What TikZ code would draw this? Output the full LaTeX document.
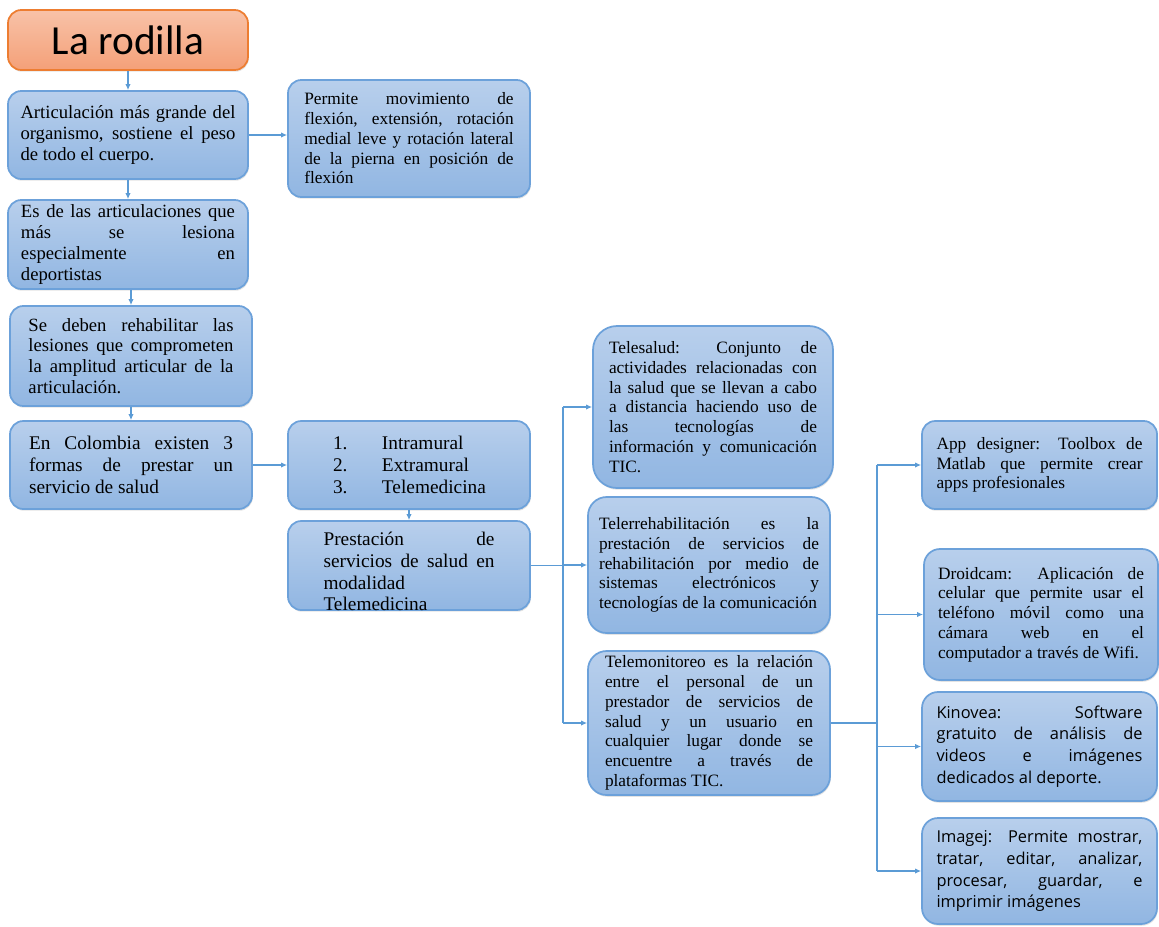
\documentclass[tikz,border=0pt]{standalone}
\usepackage{fontspec}
\setmainfont{Liberation Serif}
\newfontfamily\titlefont{Carlito}
\newfontfamily\opensans{Open Sans}
\usepackage{xcolor}
\usetikzlibrary{arrows.meta,positioning,calc,shadows}
\definecolor{boxTop}{HTML}{B8CFEC}
\definecolor{boxBot}{HTML}{91B6E2}
\definecolor{boxLine}{HTML}{6CA1DA}
\definecolor{linkBlue}{HTML}{5B9BD5}
\definecolor{titleTop}{HTML}{F8C2A8}
\definecolor{titleBot}{HTML}{F4A078}
\definecolor{titleLine}{HTML}{ED7D31}
\newcommand{\nohyph}{\hyphenpenalty=10000\exhyphenpenalty=10000\tolerance=10000\relax}

\tikzset{
  infobox/.style={draw=boxLine, line width=1.3pt, rounded corners=10pt,
    top color=boxTop, bottom color=boxBot, inner sep=0pt, align=justify,
    text=black, drop shadow={opacity=0.22, shadow xshift=0.6pt, shadow yshift=-1.3pt}},
  headbox/.style={infobox, draw=titleLine, top color=titleTop, bottom color=titleBot, align=center},
  bodyL/.style={font=\fontsize{14}{15.6}\selectfont\nohyph},
  bodyM/.style={font=\fontsize{14.5}{16.4}\selectfont\nohyph},
  bodyS/.style={font=\fontsize{13}{14.8}\selectfont\nohyph},
  bodySans/.style={font=\opensans\fontsize{12.3}{16.4}\selectfont\nohyph},
  link/.style={draw=linkBlue, line width=1.1pt},
  conn/.style={link, -{Latex[length=4.5pt,width=4pt]}},
}

\begin{document}
\begin{tikzpicture}[x=0.75pt, y=-0.75pt]
  \fill[white] (0,0) rectangle (1159,926);
  \useasboundingbox (0,0) rectangle (1159,926);
  % left column
  \node[headbox, minimum width=180pt, minimum height=45pt,
        font=\titlefont\fontsize{31}{36}\selectfont] (rodilla) at (128,40) {La rodilla};
  \node[infobox, bodyL, minimum width=180pt, minimum height=66pt, text width=161.25pt]
    (artic) at (128,135)
    {Articulación más grande del \linebreak organismo, sostiene el peso \linebreak de todo el cuerpo.};
  \node[infobox, bodyS, minimum width=181.5pt, minimum height=87.75pt, text width=157pt]
    (permite) at (409,138.5)
    {Permite movimiento de \linebreak flexión, extensión, rotación \linebreak medial leve y rotación lateral \linebreak de la pierna en posición de \linebreak flexión};
  \node[infobox, bodyL, minimum width=180pt, minimum height=66.75pt, text width=160.5pt]
    (esdelas) at (128,244.5)
    {Es de las articulaciones que \linebreak más se lesiona \linebreak especialmente en \linebreak deportistas};
  \node[infobox, bodyL, minimum width=181.5pt, minimum height=75pt, text width=153.75pt]
    (sedeben) at (131,356)
    {Se deben rehabilitar las \linebreak lesiones que comprometen \linebreak la amplitud articular de la \linebreak articulación.};
  \node[infobox, bodyM, minimum width=181.5pt, minimum height=66pt, text width=153pt]
    (colombia) at (131,465)
    {En Colombia existen 3 \linebreak formas de prestar un \linebreak servicio de salud};
  % middle column
  \node[infobox, bodyM, minimum width=181.5pt, minimum height=66pt, text width=114pt, align=left]
    (formas) at (409,465)
    {\makebox[36.75pt][l]{1.}Intramural\\ \makebox[36.75pt][l]{2.}Extramural\\ \makebox[36.75pt][l]{3.}Telemedicina};
  \node[infobox, bodyM, minimum width=181.5pt, minimum height=66.75pt, text width=128.25pt]
    (prestacion) at (409,565.5)
    {Prestación de \linebreak servicios de salud en \linebreak modalidad\newline Telemedicina\par\vspace*{-9pt}};
  % TIC column
  \node[infobox, bodyS, rounded corners=18pt, minimum width=180pt, minimum height=121.5pt, text width=156pt]
    (telesalud) at (713,407)
    {Telesalud: Conjunto de \linebreak actividades relacionadas con \linebreak la salud que se llevan a cabo \linebreak a distancia haciendo uso de \linebreak las tecnologías de \linebreak información y comunicación \linebreak TIC.};
  \node[infobox, bodyS, rounded corners=14pt, minimum width=181.5pt, minimum height=102pt, text width=165pt]
    (telerrehab) at (709,565)
    {Telerrehabilitación es la \linebreak prestación de servicios de \linebreak rehabilitación por medio de \linebreak sistemas electrónicos y \linebreak tecnologías de la comunicación};
  \node[infobox, bodyS, rounded corners=14pt, minimum width=181.5pt, minimum height=108pt, text width=156pt]
    (telemon) at (709,723)
    {Telemonitoreo es la relación \linebreak entre el personal de un \linebreak prestador de servicios de \linebreak salud y un usuario en \linebreak cualquier lugar donde se \linebreak encuentre a través de \linebreak plataformas TIC.};
  % tools column
  \node[infobox, bodyS, minimum width=176.25pt, minimum height=66pt, text width=154.5pt]
    (appdes) at (1039.5,465)
    {App designer: Toolbox de \linebreak Matlab que permite crear \linebreak apps profesionales};
  \node[infobox, bodyS, rounded corners=12pt, minimum width=175.5pt, minimum height=98.25pt, text width=154.5pt]
    (droidcam) at (1041,614.5)
    {Droidcam: Aplicación de \linebreak celular que permite usar el \linebreak teléfono móvil como una \linebreak cámara web en el \linebreak computador a través de Wifi.};
  \node[infobox, bodySans, rounded corners=12pt, minimum width=176.25pt, minimum height=81.75pt, text width=154.5pt]
    (kinovea) at (1039.5,746.5)
    {Kinovea: Software \linebreak gratuito de análisis de \linebreak videos e imágenes \linebreak dedicados al deporte.};
  \node[infobox, bodySans, rounded corners=12pt, minimum width=176.25pt, minimum height=79.5pt, text width=154.5pt]
    (imagej) at (1039.5,871)
    {Imagej: Permite mostrar, \linebreak tratar, editar, analizar, \linebreak procesar, guardar, e \linebreak imprimir imágenes};
  % connectors
  \draw[conn] (rodilla) -- (artic);
  \draw[conn] (artic.east) -- (artic.east -| permite.west);
  \draw[conn] (artic) -- (esdelas);
  \draw[conn] (sedeben.north |- esdelas.south) -- (sedeben);
  \draw[conn] (sedeben) -- (colombia);
  \draw[conn] (colombia) -- (formas);
  \draw[conn] (formas) -- (prestacion);
  % fork to the TIC boxes
  \coordinate (forkA) at (563,565.5);
  \draw[link] (prestacion.east) -- (prestacion.east -| forkA);
  \draw[link] (forkA |- telesalud.west) -- (forkA |- telemon.west);
  \foreach \n in {telesalud,telerrehab,telemon}
    \draw[conn] (forkA |- \n.west) -- (\n.west);
  % fork to the tools
  \coordinate (forkB) at (877,723);
  \draw[link] (telemon.east) -- (telemon.east -| forkB);
  \draw[link] (forkB |- appdes.west) -- (forkB |- imagej.west);
  \foreach \n in {appdes,droidcam,kinovea,imagej}
    \draw[conn] (forkB |- \n.west) -- (\n.west);
\end{tikzpicture}
\end{document}
